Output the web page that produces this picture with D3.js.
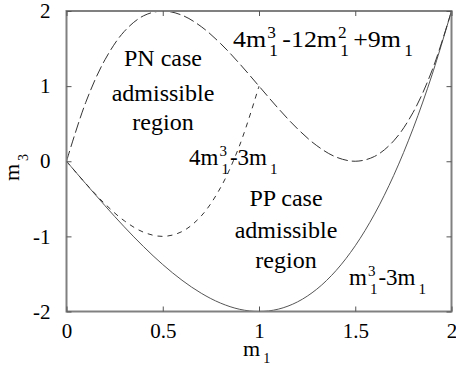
<!DOCTYPE html>
<html>
<head>
<meta charset="utf-8">
<script src="https://cdn.jsdelivr.net/npm/d3@7"></script>
<style>
    body { margin: 0; background: #fff; }
</style>
</head>
<body>
<div id="chart"></div>
<script>
// m1 sample positions and the three boundary curves
const m1 = [0, 0.1, 0.2, 0.3, 0.4, 0.5, 0.6, 0.7, 0.8, 0.9, 1.0,
            1.1, 1.2, 1.3, 1.4, 1.5, 1.6, 1.7, 1.8, 1.9, 2.0];
const upperCurve = [0, 0.784, 1.352, 1.728, 1.936, 2.0, 1.944, 1.792, 1.568, 1.296, 1.0,
                    0.704, 0.432, 0.208, 0.056, 0, 0.064, 0.272, 0.648, 1.216, 2.0];
const lowerCurve = [0, -0.299, -0.592, -0.873, -1.136, -1.375, -1.584, -1.757, -1.888, -1.971, -2.0,
                    -1.969, -1.872, -1.703, -1.456, -1.125, -0.704, -0.187, 0.432, 1.159, 2.0];
const middleCurve = [0, -0.296, -0.568, -0.792, -0.944, -1.0, -0.936, -0.728, -0.352, 0.216, 1.0];

const xTicks = [0, 0.5, 1, 1.5, 2];
const yTicks = [-2, -1, 0, 1, 2];
const xTickLabels = ["0", "0.5", "1", "1.5", "2"];
const yTickLabels = ["-2", "-1", "0", "1", "2"];

const FONT = '"Liberation Serif"';

const W = 456, H = 368;
const margin = {top: 11, right: 4.5, bottom: 56.5, left: 66.5};
const width = W - margin.left - margin.right;
const height = H - margin.top - margin.bottom;

const svg = d3.select("#chart").append("svg")
    .attr("width", W)
    .attr("height", H);

const g = svg.append("g")
    .attr("transform", `translate(${margin.left},${margin.top})`);

const x = d3.scaleLinear().domain([0, 2]).range([0, width]);
const y = d3.scaleLinear().domain([-2, 2]).range([height, 0]);

// curves
const line = d3.line()
    .x(d => x(d[0]))
    .y(d => y(d[1]))
    .curve(d3.curveCatmullRom);

g.append("path")
    .datum(m1.map((m, i) => [m, lowerCurve[i]]))
    .attr("d", line)
    .attr("fill", "none")
    .attr("stroke", "#555")
    .attr("stroke-width", 1);

g.append("path")
    .datum(m1.map((m, i) => [m, upperCurve[i]]))
    .attr("d", line)
    .attr("fill", "none")
    .attr("stroke", "#333")
    .attr("stroke-width", 1)
    .attr("stroke-dasharray", "11,4");

g.append("path")
    .datum(middleCurve.map((v, i) => [m1[i], v]))
    .attr("d", line)
    .attr("fill", "none")
    .attr("stroke", "#333")
    .attr("stroke-width", 1)
    .attr("stroke-dasharray", "5,5");

// frame
g.append("rect")
    .attr("x", 0).attr("y", 0)
    .attr("width", width).attr("height", height)
    .attr("fill", "none")
    .attr("stroke", "#808080")
    .attr("stroke-width", 2);

// axes with inward ticks
const tickLen = 5;
g.append("g")
    .attr("transform", `translate(0,${height})`)
    .call(d3.axisBottom(x).tickValues(xTicks).tickSizeInner(-tickLen).tickSizeOuter(0)
        .tickFormat((d, i) => xTickLabels[i]).tickPadding(12))
    .call(a => a.select(".domain").remove())
    .call(a => a.selectAll("line").attr("stroke", "#555"))
    .call(a => a.selectAll("text").style("font-family", FONT).style("font-size", "21px"));

g.append("g")
    .call(d3.axisTop(x).tickValues(xTicks).tickSizeInner(-tickLen).tickSizeOuter(0).tickFormat(""))
    .call(a => a.select(".domain").remove())
    .call(a => a.selectAll("line").attr("stroke", "#555"));

g.append("g")
    .call(d3.axisLeft(y).tickValues(yTicks).tickSizeInner(-tickLen).tickSizeOuter(0)
        .tickFormat((d, i) => yTickLabels[i]).tickPadding(16))
    .call(a => a.select(".domain").remove())
    .call(a => a.selectAll("line").attr("stroke", "#555"))
    .call(a => a.selectAll("text").style("font-family", FONT).style("font-size", "21px"));

g.append("g")
    .attr("transform", `translate(${width},0)`)
    .call(d3.axisRight(y).tickValues(yTicks).tickSizeInner(-tickLen).tickSizeOuter(0).tickFormat(""))
    .call(a => a.select(".domain").remove())
    .call(a => a.selectAll("line").attr("stroke", "#555"));

// text with stacked super/subscripts, laid out piece by piece
function mathText(parent, tokens, x0, y0, size, subSize, gap, subDy) {
    const grp = parent.append("g").attr("transform", `translate(${x0},${y0})`);
    let cx = 0;
    const put = (tx, ty, sz, str) => grp.append("text")
        .attr("x", tx).attr("y", ty)
        .style("font-family", FONT).style("font-size", sz + "px")
        .text(str);
    tokens.forEach(tok => {
        if (typeof tok === "string") {
            cx += put(cx, 0, size, tok).node().getComputedTextLength();
        } else {
            let w = 0;
            if (tok.sup) {
                const t = put(cx + 1, -9, subSize, tok.sup);
                w = Math.max(w, t.node().getComputedTextLength() + 1);
            }
            if (tok.sub) {
                const t = put(cx + 3, subDy || 9, subSize, tok.sub);
                w = Math.max(w, t.node().getComputedTextLength() + 3);
            }
            cx += w + (gap || 1);
        }
    });
    return grp;
}

const fs = 23, sfs = 15, rfs = 24;

mathText(svg, ["4m", {sup: "3", sub: "1"}, "-12m", {sup: "2", sub: "1"}, "+9m", {sub: "1"}], 233, 47, 24, 16, 4)
    .attr("transform", "translate(233,47) scale(1.08,1)");
mathText(svg, ["4m", {sup: "3", sub: "1"}, "-3m", {sub: "1"}], 189, 165, fs, sfs);
mathText(svg, ["m", {sup: "3", sub: "1"}, "-3m", {sub: "1"}], 349, 285, fs, sfs);

// region labels
const pnLines = ["PN case", "admissible", "region"];
const ppLines = ["PP case", "admissible", "region"];
const pnBase = [66, 101, 130];
const ppBase = [206, 238, 268];

svg.selectAll(".pn").data(pnLines).enter().append("text")
    .attr("class", "pn")
    .attr("x", 163).attr("y", (d, i) => pnBase[i])
    .attr("text-anchor", "middle")
    .style("font-family", FONT).style("font-size", rfs + "px")
    .text(d => d);

svg.selectAll(".pp").data(ppLines).enter().append("text")
    .attr("class", "pp")
    .attr("x", 286).attr("y", (d, i) => ppBase[i])
    .attr("text-anchor", "middle")
    .style("font-family", FONT).style("font-size", rfs + "px")
    .text(d => d);

// axis titles
mathText(svg, ["m", {sub: "1"}], 243, 356, 22, 14, 1, 7);
const yl = svg.append("g").attr("transform", "translate(19,181) rotate(-90)");
mathText(yl, ["m", {sub: "3"}], 0, 0, 22, 14);
</script>
</body>
</html>
